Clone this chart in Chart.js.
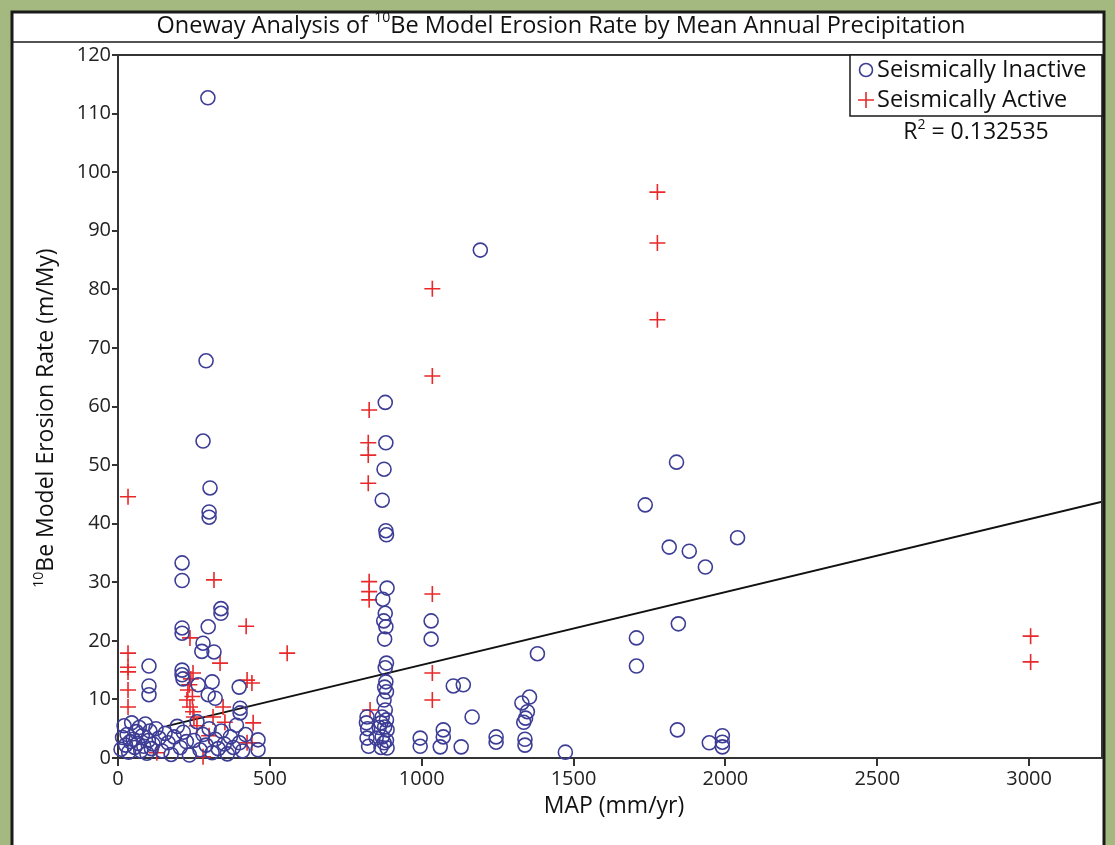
<!DOCTYPE html>
<html>
<head>
<meta charset="utf-8">
<title>Oneway Analysis of 10Be Model Erosion Rate by Mean Annual Precipitation</title>
<script src="https://cdn.jsdelivr.net/npm/chart.js@4.4.1/dist/chart.umd.min.js"></script>
<style>
  html, body { margin: 0; padding: 0; background: #a3b97f; }
  #wrap { position: absolute; left: 0; top: 0; width: 1115px; height: 845px; }
</style>
</head>
<body>
<div id="wrap"><canvas id="myChart" width="1115" height="845"></canvas></div>
<script>
// Seismically inactive basins (circles): MAP in mm/yr, erosion rate in m/My
const inactiveMAP = [
  296, 290, 280, 303, 300, 300, 211, 211, 339, 339, 297, 211, 211, 280, 276, 316,
  102, 102, 102, 211, 211, 214, 264, 310, 297, 320, 399, 402, 402, 461, 461,
  10, 15, 20, 25, 30, 35, 40, 45, 50, 55, 60, 65, 70, 75, 80, 85, 90, 95, 100,
  105, 110, 115, 125, 135, 145, 155, 165, 175, 185, 195, 205, 215, 225, 235,
  250, 260, 270, 280, 290, 300, 310, 320, 330, 340, 350, 360, 370, 380, 390,
  400, 410, 420,
  880, 882, 876, 870, 882, 884, 886, 872, 880, 875, 882, 878, 884, 880, 882,
  878, 884, 876, 880, 870, 884, 866, 878, 860, 886, 820, 818, 822, 820, 825,
  870, 884, 876, 886, 866, 850,
  1031, 1031, 1104, 1137, 1166, 995, 995, 1071, 1071, 1061, 1130, 1245, 1245,
  1330, 1355, 1348, 1342, 1336, 1340, 1340, 1381, 1473, 1193,
  1707, 1707, 1736, 1839, 1815, 1881, 1934, 2040, 1845, 1842, 1990, 1990, 1947, 1990
];
const inactiveRate = [
  112.7, 67.8, 54.1, 46.1, 42.0, 41.1, 33.3, 30.3, 25.5, 24.7, 22.4, 22.2, 21.3, 19.6, 18.2, 18.1,
  15.7, 12.3, 10.8, 15.0, 14.2, 13.5, 12.5, 13.0, 10.8, 10.2, 12.1, 8.5, 7.7, 3.1, 1.4,
  1.5, 3.5, 5.5, 2.2, 4.0, 1.0, 2.8, 6.0, 3.2, 1.8, 4.5, 2.5, 5.2, 1.2, 3.8, 2.0, 5.8, 0.8, 3.0,
  4.6, 1.6, 2.4, 5.0, 3.4, 1.2, 4.2, 2.6, 0.6, 3.6, 5.4, 1.8, 4.4, 2.8, 0.5,
  3.0, 6.2, 1.4, 4.0, 2.2, 5.0, 0.9, 3.2, 1.6, 4.6, 2.4, 0.7, 3.6, 1.8, 5.6,
  2.6, 1.2, 4.0,
  60.7, 53.8, 49.3, 44.0, 38.8, 38.1, 29.0, 27.1, 24.7, 23.4, 22.4, 20.3, 16.2, 15.4, 13.0,
  12.1, 11.3, 9.9, 8.2, 7.0, 6.5, 6.0, 5.3, 5.2, 4.8, 7.0, 6.0, 5.0, 3.4, 2.0,
  3.6, 3.0, 2.6, 1.7, 1.8, 3.4,
  23.4, 20.3, 12.3, 12.5, 7.0, 3.4, 2.0, 4.8, 3.6, 1.9, 1.9, 3.6, 2.7,
  9.4, 10.4, 7.9, 6.8, 6.1, 3.2, 2.2, 17.8, 1.0, 86.7,
  20.5, 15.7, 43.2, 50.5, 36.0, 35.3, 32.6, 37.6, 22.9, 4.8, 3.8, 2.7, 2.6, 1.9
];

// Seismically active basins (crosses)
const activeMAP = [
  33, 33, 33, 33, 33, 33, 128, 237, 316, 422, 557, 336, 247, 240, 230, 227, 237,
  247, 250, 235, 245, 425, 441, 346, 352, 313, 445, 441, 425, 280, 300, 260,
  827, 824, 824, 824, 827, 827, 827, 830,
  1035, 1035, 1035, 1035, 1035,
  1776, 1776, 1776,
  3005, 3005
];
const activeRate = [
  44.6, 17.9, 15.5, 14.7, 11.6, 8.7, 0.9, 20.5, 30.4, 22.5, 17.9, 16.2, 14.5, 13.5, 11.6, 9.9, 8.7,
  7.9, 7.0, 12.5, 10.5, 13.3, 12.8, 8.7, 6.1, 7.0, 6.0, 2.6, 2.6, 0.2, 3.8, 5.5,
  59.4, 53.8, 51.7, 46.9, 30.1, 28.4, 27.0, 8.2,
  80.1, 65.2, 28.0, 14.5, 9.9,
  96.6, 87.9, 74.8,
  20.8, 16.4
];

// axis ticks
const xTicks = [0, 500, 1000, 1500, 2000, 2500, 3000];
const yTicks = [0, 10, 20, 30, 40, 50, 60, 70, 80, 90, 100, 110, 120];

// linear fit shown on the plot
const fitIntercept = 3.45;
const fitSlope = 0.01244;
const fitRange = [160, 3240];
const rSquared = "0.132535";

const xRange = [0, 3240];
const yRange = [0, 120];

const BLUE = "#3d3d96";
const RED = "#e8282a";
const FONT = "'Open Sans', sans-serif";

function toPoints(xs, ys) {
  return xs.map((x, i) => ({ x: x, y: ys[i] }));
}

// draws text made of plain + superscript parts, centred on x
function richText(ctx, parts, x, y, size) {
  const supSize = Math.round(size * 0.6);
  let total = 0;
  parts.forEach(p => {
    ctx.font = (p.sup ? supSize : size) + "px " + FONT;
    p.w = ctx.measureText(p.t).width;
    total += p.w;
  });
  let cx = x - total / 2;
  ctx.textAlign = "left";
  ctx.textBaseline = "middle";
  parts.forEach(p => {
    ctx.font = (p.sup ? supSize : size) + "px " + FONT;
    ctx.fillText(p.t, cx, p.sup ? y - size * 0.32 : y);
    cx += p.w;
  });
}

const framePlugin = {
  id: "frame",
  beforeDraw(chart) {
    const ctx = chart.ctx;
    ctx.save();
    ctx.fillStyle = "#ffffff";
    ctx.fillRect(12, 12, 1092, 840);
    ctx.strokeStyle = "#1a1a1a";
    ctx.lineWidth = 3;
    ctx.strokeRect(12, 12, 1092, 840);
    ctx.lineWidth = 1.5;
    ctx.beginPath();
    ctx.moveTo(12, 42);
    ctx.lineTo(1104, 42);
    ctx.stroke();
    ctx.fillStyle = "#111";
    richText(ctx, [
      { t: "Oneway Analysis of " },
      { t: "10", sup: true },
      { t: "Be Model Erosion Rate by Mean Annual Precipitation" }
    ], 561, 26, 23.5);
    ctx.restore();
  },
  afterDraw(chart) {
    const ctx = chart.ctx;
    const a = chart.chartArea;
    ctx.save();
    ctx.strokeStyle = "#333";
    ctx.lineWidth = 2;
    ctx.beginPath();
    ctx.moveTo(a.left, a.top);
    ctx.lineTo(a.right, a.top);
    ctx.lineTo(a.right, a.bottom);
    ctx.stroke();

    // legend box
    const lx = 850, ly = a.top, lw = a.right - 850, lh = 61;
    ctx.fillStyle = "#fff";
    ctx.fillRect(lx, ly, lw, lh);
    ctx.strokeStyle = "#1a1a1a";
    ctx.lineWidth = 1.5;
    ctx.strokeRect(lx, ly, lw, lh);
    ctx.strokeStyle = BLUE;
    ctx.lineWidth = 1.6;
    ctx.beginPath();
    ctx.arc(866, 70, 6.5, 0, Math.PI * 2);
    ctx.stroke();
    ctx.strokeStyle = RED;
    ctx.beginPath();
    ctx.moveTo(858, 100); ctx.lineTo(874, 100);
    ctx.moveTo(866, 92); ctx.lineTo(866, 108);
    ctx.stroke();
    ctx.fillStyle = "#111";
    ctx.font = "23.5px " + FONT;
    ctx.textAlign = "left";
    ctx.textBaseline = "middle";
    ctx.fillText("Seismically Inactive", 877, 70);
    ctx.fillText("Seismically Active", 877, 100);
    richText(ctx, [{ t: "R" }, { t: "2", sup: true }, { t: " = " + rSquared }], 976, 132, 23);

    // axis titles
    richText(ctx, [{ t: "MAP (mm/yr)" }], 614, 806, 23);
    ctx.translate(46, 418);
    ctx.rotate(-Math.PI / 2);
    richText(ctx, [{ t: "10", sup: true }, { t: "Be Model Erosion Rate (m/My)" }], 0, 0, 23);
    ctx.restore();
  }
};

const tickFont = { family: FONT, size: 20 };

new Chart(document.getElementById("myChart"), {
  type: "scatter",
  data: {
    datasets: [
      {
        label: "Seismically Inactive",
        data: toPoints(inactiveMAP, inactiveRate),
        pointStyle: "circle",
        pointRadius: 7,
        borderColor: BLUE,
        borderWidth: 1.6,
        backgroundColor: "rgba(0,0,0,0)",
        clip: false
      },
      {
        label: "Seismically Active",
        data: toPoints(activeMAP, activeRate),
        pointStyle: "cross",
        pointRadius: 8,
        borderColor: RED,
        borderWidth: 1.6,
        backgroundColor: RED,
        clip: false
      },
      {
        type: "line",
        label: "Fit",
        data: fitRange.map(x => ({ x: x, y: fitIntercept + fitSlope * x })),
        borderColor: "#111",
        borderWidth: 2,
        pointRadius: 0,
        fill: false
      }
    ]
  },
  options: {
    responsive: false,
    animation: false,
    layout: { padding: { top: 55, right: 13, left: 0, bottom: 0 } },
    plugins: {
      legend: { display: false },
      tooltip: { enabled: false },
      title: { display: false }
    },
    scales: {
      x: {
        type: "linear",
        min: xRange[0],
        max: xRange[1],
        afterBuildTicks: s => { s.ticks = xTicks.map(v => ({ value: v })); },
        ticks: { font: tickFont, color: "#222", padding: 1, maxRotation: 0, autoSkip: false, callback: v => String(v) },
        grid: { drawOnChartArea: false, tickLength: 8, color: "#333", lineWidth: 2 },
        border: { color: "#333", width: 2 },
        afterFit: s => { s.height = 87; }
      },
      y: {
        min: yRange[0],
        max: yRange[1],
        afterBuildTicks: s => { s.ticks = yTicks.map(v => ({ value: v })); },
        ticks: { font: tickFont, color: "#222", padding: 1, autoSkip: false, callback: v => String(v) },
        grid: { drawOnChartArea: false, tickLength: 6, color: "#333", lineWidth: 2 },
        border: { color: "#333", width: 2 },
        afterFit: s => { s.width = 118; }
      }
    }
  },
  plugins: [framePlugin]
});
</script>
</body>
</html>
